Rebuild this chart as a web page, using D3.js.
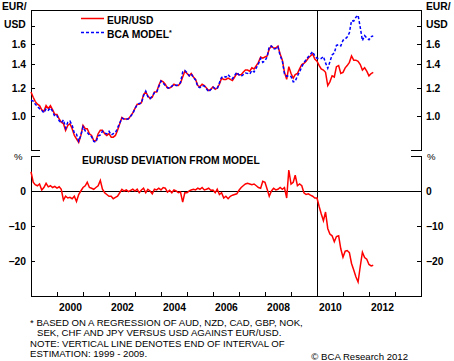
<!DOCTYPE html>
<html>
<head>
<meta charset="utf-8">
<script src="https://cdn.jsdelivr.net/npm/d3@7"></script>
<style>
body { margin: 0; background: #fff; }
svg { display: block; }
text { font-family: "Liberation Sans", Arial, sans-serif; fill: #000; }
.lbl { font-weight: bold; font-size: 10.3px; }
.note { font-size: 9.6px; }
.axis path { display: none; }
.axis line { stroke: #000; shape-rendering: crispEdges; }
.axis text { font-family: "Liberation Sans", Arial, sans-serif; font-weight: bold; font-size: 10.3px; }
</style>
</head>
<body>
<svg id="chart" width="454" height="361"></svg>
<script>
// monthly readings, Jan 1999 .. Mar 2012
var eurusd = [
    1.17, 1.13, 1.10, 1.08, 1.07, 1.04, 1.03, 1.07, 1.05, 1.07, 1.04, 1.01, // 1999
    1.01, 0.98, 0.96, 0.95, 0.91, 0.94, 0.95, 0.92, 0.88, 0.86, 0.84, 0.88, // 2000
    0.94, 0.92, 0.92, 0.89, 0.88, 0.85, 0.85, 0.89, 0.91, 0.91, 0.89, 0.88, // 2001
    0.89, 0.87, 0.87, 0.88, 0.91, 0.95, 0.99, 0.98, 0.98, 0.98, 1.00, 1.02, // 2002
    1.05, 1.08, 1.08, 1.09, 1.15, 1.17, 1.14, 1.12, 1.13, 1.17, 1.17, 1.22, // 2003
    1.26, 1.25, 1.23, 1.20, 1.20, 1.21, 1.23, 1.22, 1.22, 1.24, 1.29, 1.34, // 2004
    1.32, 1.30, 1.32, 1.29, 1.27, 1.22, 1.21, 1.23, 1.22, 1.20, 1.18, 1.19, // 2005
    1.21, 1.19, 1.20, 1.23, 1.28, 1.27, 1.27, 1.28, 1.27, 1.26, 1.29, 1.32, // 2006
    1.31, 1.31, 1.33, 1.35, 1.35, 1.34, 1.37, 1.36, 1.39, 1.42, 1.47, 1.46, // 2007
    1.47, 1.48, 1.55, 1.58, 1.56, 1.56, 1.58, 1.50, 1.44, 1.33, 1.27, 1.38, // 2008
    1.32, 1.28, 1.31, 1.32, 1.36, 1.40, 1.41, 1.43, 1.46, 1.48, 1.50, 1.45, // 2009
    1.43, 1.39, 1.36, 1.35, 1.33, 1.22, 1.25, 1.30, 1.29, 1.38, 1.39, 1.32, // 2010
    1.33, 1.37, 1.39, 1.42, 1.48, 1.44, 1.44, 1.43, 1.40, 1.35, 1.37, 1.34, // 2011
    1.30, 1.32, 1.33                                                        // 2012
];

var bcaModel = [
    1.109, 1.102, 1.081, 1.064, 1.049, 1.037, 1.020, 1.047, 1.038, 1.054, 1.030, 0.997,
    1.002, 0.968, 0.955, 0.975, 0.924, 0.959, 0.967, 0.941, 0.893, 0.887, 0.848, 0.880,
    0.931, 0.906, 0.898, 0.881, 0.873, 0.846, 0.842, 0.877, 0.883, 0.905, 0.894, 0.889,
    0.904, 0.883, 0.890, 0.896, 0.924, 0.955, 0.985, 0.980, 0.977, 0.982, 0.998, 1.015,
    1.050, 1.075, 1.085, 1.087, 1.141, 1.176, 1.134, 1.120, 1.139, 1.164, 1.166, 1.210,
    1.256, 1.238, 1.220, 1.204, 1.198, 1.216, 1.226, 1.220, 1.226, 1.244, 1.333, 1.347,
    1.327, 1.300, 1.316, 1.284, 1.266, 1.210, 1.204, 1.218, 1.216, 1.194, 1.171, 1.188,
    1.206, 1.196, 1.194, 1.242, 1.286, 1.296, 1.289, 1.309, 1.289, 1.275, 1.303, 1.331,
    1.307, 1.297, 1.310, 1.324, 1.321, 1.314, 1.346, 1.333, 1.369, 1.406, 1.458, 1.420,
    1.434, 1.473, 1.574, 1.580, 1.548, 1.555, 1.572, 1.485, 1.433, 1.317, 1.296, 1.302,
    1.294, 1.249, 1.254, 1.300, 1.333, 1.379, 1.417, 1.444, 1.472, 1.498, 1.523, 1.480,
    1.459, 1.455, 1.455, 1.475, 1.415, 1.366, 1.425, 1.491, 1.509, 1.586, 1.594, 1.581,
    1.640, 1.655, 1.675, 1.723, 1.866, 1.860, 1.907, 1.932, 1.783, 1.636, 1.691, 1.665,
    1.646, 1.679, 1.688
];

// % deviation of EUR/USD from model
var deviation = [
    5.5, 2.5, 1.8, 1.5, 2.0, 0.3, 1.0, 2.2, 1.2, 1.5, 1.0, 1.3,
    0.8, 1.2, 0.5, -2.6, -1.5, -2.0, -1.8, -2.2, -1.5, -3.0, -1.0, 0.0,
    1.0, 1.5, 2.5, 1.0, 0.8, 0.5, 1.0, 1.5, 3.0, 0.5, -0.5, -1.0,
    -1.5, -1.5, -2.2, -1.8, -1.5, -0.5, 0.5, 0.0, 0.3, -0.2, 0.2, 0.5,
    0.0, 0.5, -0.5, 0.3, 0.8, -0.5, 0.5, 0.0, -0.8, 0.5, 0.3, 0.8,
    0.3, 1.0, 0.8, -0.3, 0.2, -0.5, 0.3, 0.0, -0.5, -0.3, -3.2, -0.5,
    -0.5, 0.0, 0.3, 0.5, 0.3, 0.8, 0.5, 1.0, 0.3, 0.5, 0.8, 0.2,
    0.3, -0.5, 0.5, -1.0, -0.5, -2.0, -1.5, -2.2, -1.5, -1.2, -1.0, -0.8,
    0.2, 1.0, 1.5, 2.0, 2.2, 2.0, 1.8, 2.0, 1.5, 1.0, 0.8, 2.8,
    2.5, 0.5, -1.5, 0.0, 0.8, 0.3, 0.5, 1.0, 0.5, 1.0, -2.0, 6.0,
    2.0, 2.5, 4.5, 1.5, 2.0, 1.5, -0.5, -1.0, -0.8, -1.2, -1.5, -2.0,
    -2.0, -4.5, -6.5, -8.5, -6.0, -10.7, -12.3, -12.8, -14.5, -13.0, -12.8, -16.5,
    -18.9, -17.2, -17.0, -17.6, -20.7, -22.6, -24.5, -26.0, -21.5, -17.5, -19.0, -19.5,
    -21.0, -21.4, -21.2
];

var yearTicks = [2000, 2001, 2002, 2003, 2004, 2005, 2006, 2007, 2008, 2009, 2010, 2011, 2012, 2013];
var yearLabels = [2000, 2002, 2004, 2006, 2008, 2010, 2012];
var priceTicks = [1.0, 1.2, 1.4, 1.6, 1.8];
var devTicks = [0, -10, -20];
var estimationEnd = 2010;

var svg = d3.select("#chart");

var L = 31, R = 421;
var T1 = 10, B1 = 150, T2 = 156, B2 = 296;

var months = d3.timeMonth.range(new Date(1999, 0, 1), new Date(2012, 3, 1));

var x = d3.scaleTime()
    .domain([new Date(1999, 0, 1), new Date(2014, 0, 1)])
    .range([L, R]);
var yTop = d3.scaleLog().domain([0.8, 2.0]).range([B1, T1]);
var yBot = d3.scaleLinear().domain([-30, 10]).range([B2, T2]);

function fmtPrice(d) { return d === 1.8 ? "" : d3.format(".1f")(d); }

// y axes, ticks pointing inward
svg.append("g").attr("class", "axis").attr("transform", "translate(" + L + ",0)")
    .call(d3.axisLeft(yTop).tickValues(priceTicks).tickSize(-4).tickPadding(5).tickFormat(fmtPrice));
svg.append("g").attr("class", "axis").attr("transform", "translate(" + R + ",0)")
    .call(d3.axisRight(yTop).tickValues(priceTicks).tickSize(-4).tickPadding(5).tickFormat(fmtPrice));
svg.append("g").attr("class", "axis").attr("transform", "translate(" + L + ",0)")
    .call(d3.axisLeft(yBot).tickValues(devTicks).tickSize(-4).tickPadding(5));
svg.append("g").attr("class", "axis").attr("transform", "translate(" + R + ",0)")
    .call(d3.axisRight(yBot).tickValues(devTicks).tickSize(-4).tickPadding(5));

// x axis: ticks at year starts, labels mid-year
svg.append("g").attr("class", "axis").attr("transform", "translate(0," + B2 + ")")
    .call(d3.axisBottom(x).tickValues(yearTicks.map(function(y) { return new Date(y, 0, 1); }))
        .tickSize(-4).tickFormat(""));
svg.append("g").attr("class", "axis").attr("transform", "translate(0," + B2 + ")")
    .call(d3.axisBottom(x).tickValues(yearLabels.map(function(y) { return new Date(y, 6, 1); }))
        .tickSize(0).tickPadding(8).tickFormat(d3.timeFormat("%Y")));

// frames (open between the two panels)
var frame = svg.append("g")
    .attr("fill", "none").attr("stroke", "#000").attr("stroke-width", 1)
    .attr("shape-rendering", "crispEdges");
frame.append("path").attr("d",
    "M" + (L + 9) + "," + B1 + "H" + L + "V" + T1 + "H" + R + "V" + B1 + "H" + (R - 10));
frame.append("path").attr("d",
    "M" + (L + 9) + "," + T2 + "H" + L + "V" + B2 + "H" + R + "V" + T2 + "H" + (R - 10));
frame.append("line")
    .attr("x1", L).attr("x2", R).attr("y1", yBot(0)).attr("y2", yBot(0));
frame.append("line")
    .attr("x1", x(new Date(estimationEnd, 0, 1))).attr("x2", x(new Date(estimationEnd, 0, 1)))
    .attr("y1", T1).attr("y2", B2);

var lineTop = function(vals) {
    return d3.line()
        .x(function(d, i) { return x(months[i]); })
        .y(function(d) { return yTop(d); })(vals);
};

svg.append("path").attr("d", lineTop(eurusd))
    .attr("fill", "none").attr("stroke", "#ff0000").attr("stroke-width", 1.5);
svg.append("path").attr("d", lineTop(bcaModel))
    .attr("fill", "none").attr("stroke", "#0000ff").attr("stroke-width", 1.5)
    .attr("stroke-dasharray", "3,2");

svg.append("path")
    .attr("d", d3.line()
        .x(function(d, i) { return x(months[i]); })
        .y(function(d) { return yBot(d); })(deviation))
    .attr("fill", "none").attr("stroke", "#ff0000").attr("stroke-width", 1.5);

// legend
svg.append("line").attr("x1", 81).attr("x2", 104).attr("y1", 18.5).attr("y2", 18.5)
    .attr("stroke", "#ff0000").attr("stroke-width", 1.5);
svg.append("line").attr("x1", 81).attr("x2", 104).attr("y1", 32.5).attr("y2", 32.5)
    .attr("stroke", "#0000ff").attr("stroke-width", 1.5).attr("stroke-dasharray", "3,2");
svg.append("text").attr("class", "lbl").attr("x", 107).attr("y", 23.5).text("EUR/USD");
var bca = svg.append("text").attr("class", "lbl").attr("x", 107).attr("y", 37.5).text("BCA MODEL");
bca.append("tspan").attr("font-size", "7px").attr("dy", -3).text("*");

// unit labels
svg.append("text").attr("class", "lbl").attr("x", 2).attr("y", 10).text("EUR/");
svg.append("text").attr("class", "lbl").attr("x", 4).attr("y", 28).text("USD");
svg.append("text").attr("class", "lbl").attr("x", 426).attr("y", 10).text("EUR/");
svg.append("text").attr("class", "lbl").attr("x", 426).attr("y", 28).text("USD");
svg.append("text").attr("class", "note").attr("x", 14).attr("y", 160).text("%");
svg.append("text").attr("class", "note").attr("x", 427).attr("y", 160).text("%");

svg.append("text").attr("class", "lbl").attr("x", 82).attr("y", 164)
    .text("EUR/USD DEVIATION FROM MODEL");

// footnotes
var notes = [
    [30, 326, "* BASED ON A REGRESSION OF AUD, NZD, CAD, GBP, NOK,"],
    [37, 336, "SEK, CHF AND JPY VERSUS USD AGAINST EUR/USD."],
    [30, 347, "NOTE: VERTICAL LINE DENOTES END OF INTERVAL OF"],
    [30, 357, "ESTIMATION: 1999 - 2009."]
];
notes.forEach(function(n) {
    svg.append("text").attr("class", "note").attr("x", n[0]).attr("y", n[1]).text(n[2]);
});
svg.append("text").attr("class", "note").attr("x", 408).attr("y", 360)
    .attr("text-anchor", "end").text("\u00a9 BCA Research 2012");
</script>
</body>
</html>
